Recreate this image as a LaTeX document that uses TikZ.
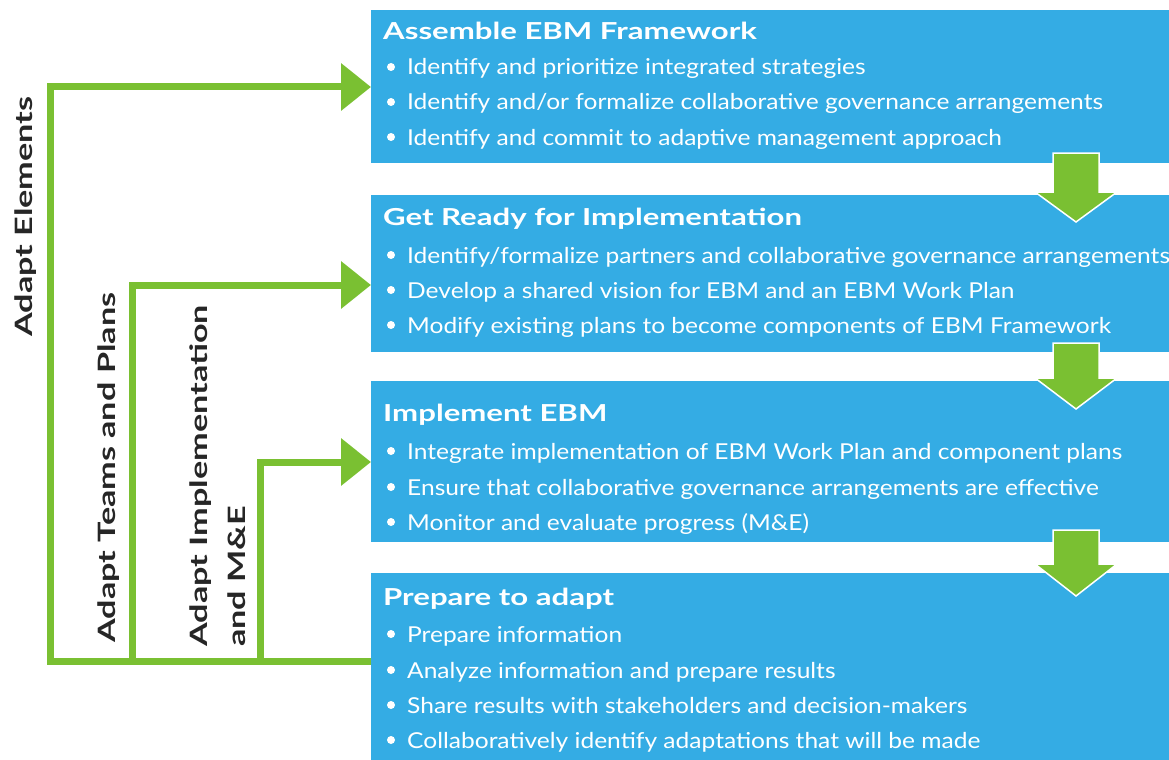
\documentclass[tikz,border=0pt]{standalone}
\usepackage{fontspec}
\setmainfont{Lato}
\newfontfamily\itemfont{Lato}[FakeStretch=1.12]
\newfontfamily\titlefont{Lato}[FakeStretch=1.33]
\newfontfamily\sidefont{Lato}[FakeStretch=1.43]
\usetikzlibrary{arrows.meta}
\definecolor{ebmblue}{RGB}{52,172,228}
\definecolor{ebmgreen}{RGB}{122,192,50}
\begin{document}
\begin{tikzpicture}[x=1bp,y=-1bp,
  box/.style={fill=ebmblue, draw=none, inner sep=0, outer sep=0, minimum width=798bp, anchor=north west},
  title/.style={anchor=base west, inner sep=0, text=white, font=\titlefont\fontsize{23.5}{27}\selectfont\bfseries},
  item/.style={anchor=base west, inner sep=0, text=white, font=\itemfont\fontsize{22}{26}\selectfont},
  dot/.style={circle, fill=white, inner sep=0, minimum size=8bp},
  feed/.style={draw=ebmgreen, line width=7bp, line join=miter, -{Triangle[length=30bp,width=46bp]}},
  sidelabel/.style={rotate=90, anchor=base west, inner sep=0, font=\sidefont\fontsize{24}{28}\selectfont\bfseries, text=black!85},
  downarrow/.style={fill=ebmgreen, draw=white, line width=1.5bp}]
\useasboundingbox (0,0) rectangle (1169,760);
% boxes
\node[box, minimum height=153bp] (B1) at (371,10) {};
\node[box, minimum height=157bp] (B2) at (371,195) {};
\node[box, minimum height=161bp] (B3) at (371,381) {};
\node[box, minimum height=187bp] (B4) at (371,573) {};
% box 1
\node[title] (T1) at (383,40) {Assemble EBM Framework};
\node[dot] (d11) at (391,67) {}; \node[item] (i11) at (407,75) {Identify and prioritize integrated strategies};
\node[dot] (d12) at (391,102) {}; \node[item] (i12) at (407,110) {Identify and/or formalize collaborative governance arrangements};
\node[dot] (d13) at (391,137) {}; \node[item] (i13) at (407,145) {Identify and commit to adaptive management approach};
% box 2
\node[title] (T2) at (383,225) {Get Ready for Implementation};
\node[dot] (d21) at (391,255) {}; \node[item] (i21) at (407,263) {Identify/formalize partners and collaborative governance arrangements};
\node[dot] (d22) at (391,290) {}; \node[item] (i22) at (407,298) {Develop a shared vision for EBM and an EBM Work Plan};
\node[dot] (d23) at (391,325) {}; \node[item] (i23) at (407,333) {Modify existing plans to become components of EBM Framework};
% box 3
\node[title] (T3) at (383,421) {Implement EBM};
\node[dot] (d31) at (391,451) {}; \node[item] (i31) at (407,459) {Integrate implementation of EBM Work Plan and component plans};
\node[dot] (d32) at (391,487) {}; \node[item] (i32) at (407,495) {Ensure that collaborative governance arrangements are effective};
\node[dot] (d33) at (391,522) {}; \node[item] (i33) at (407,530) {Monitor and evaluate progress (M\&E)};
% box 4
\node[title] (T4) at (383,605) {Prepare to adapt};
\node[dot] (d41) at (391,634) {}; \node[item] (i41) at (407,642) {Prepare information};
\node[dot] (d42) at (391,670) {}; \node[item] (i42) at (407,678) {Analyze information and prepare results};
\node[dot] (d43) at (391,705) {}; \node[item] (i43) at (407,713) {Share results with stakeholders and decision-makers};
\node[dot] (d44) at (391,740) {}; \node[item] (i44) at (407,748) {Collaboratively identify adaptations that will be made};
% down arrows between boxes
\fill[downarrow] (1053,153) -- (1099,153) -- (1099,192) -- (1117,192) -- (1076,222) -- (1035,192) -- (1053,192) -- cycle;
\fill[downarrow] (1053,343) -- (1099,343) -- (1099,378) -- (1117,378) -- (1076,409) -- (1035,378) -- (1053,378) -- cycle;
\fill[downarrow] (1053,530) -- (1099,530) -- (1099,564) -- (1117,564) -- (1076,596) -- (1035,564) -- (1053,564) -- cycle;
% feedback loops
\coordinate (j1) at (50,661);
\coordinate (j2) at (132,661);
\coordinate (j3) at (260,661);
\coordinate (e1) at (50,87);
\coordinate (e2) at (132,285);
\coordinate (e3) at (260,462);
\draw[feed] (j1 -| B4.west) -- (j1) -- (e1) -- (e1 -| B1.west);
\draw[feed] (j2) -- (e2) -- (e2 -| B2.west);
\draw[feed] (j3) -- (e3) -- (e3 -| B3.west);
% side labels
\node[sidelabel] (L1) at (32,337) {Adapt Elements};
\node[sidelabel] (L2) at (115,643) {Adapt Teams and Plans};
\node[sidelabel] (L3) at (207,647) {Adapt Implementation};
\node[sidelabel] (L4) at (245,647) {and M\&E};
\end{tikzpicture}
\end{document}
